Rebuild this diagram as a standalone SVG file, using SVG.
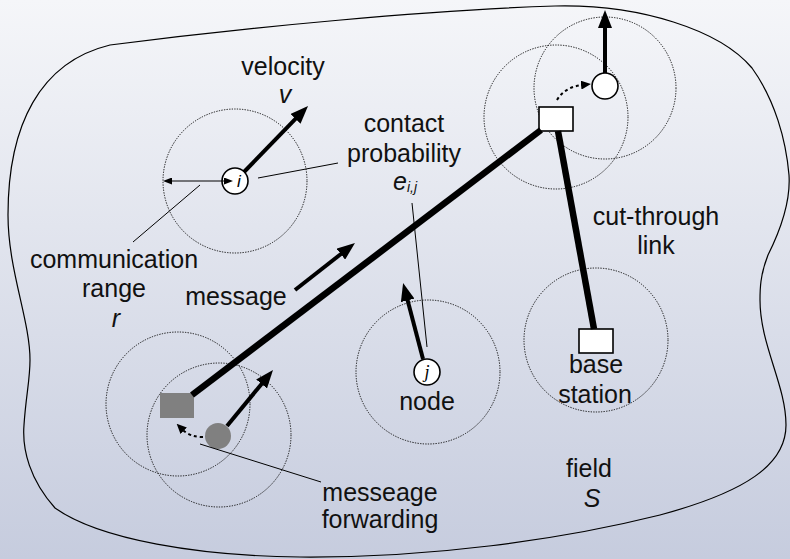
<svg xmlns="http://www.w3.org/2000/svg" width="790" height="559" viewBox="0 0 790 559">
<defs>
<linearGradient id="bg" x1="0" y1="0" x2="0" y2="1">
<stop offset="0" stop-color="#f5f6f9"/>
<stop offset="1" stop-color="#c6ccde"/>
</linearGradient>
<marker id="ah" markerUnits="userSpaceOnUse" markerWidth="18" markerHeight="14" viewBox="0 0 18 14" refX="1" refY="7" orient="auto">
<path d="M0,0 L18,7 L0,14 z" fill="#000"/>
</marker>
<marker id="ahs" markerUnits="userSpaceOnUse" markerWidth="10" markerHeight="9" viewBox="0 0 10 9" refX="1" refY="4.5" orient="auto">
<path d="M0,0 L10,4.5 L0,9 z" fill="#000"/>
</marker>
<marker id="aht" markerUnits="userSpaceOnUse" markerWidth="9" markerHeight="7" viewBox="0 0 9 7" refX="1" refY="3.5" orient="auto-start-reverse">
<path d="M0,0 L9,3.5 L0,7 z" fill="#000"/>
</marker>
</defs>
<style>
.txt{font-family:"Liberation Sans",Arial,sans-serif;font-size:25px;fill:#111;text-anchor:middle}
.it{font-style:italic}
.range{fill:none;stroke:#111;stroke-width:1;stroke-dasharray:1.3,1.3}
.node{fill:#fff;stroke:#000;stroke-width:1.6}
.gray{fill:#808080}
.link{stroke:#000;stroke-width:6.5;fill:none}
.arr{stroke:#000;stroke-width:4;fill:none;marker-end:url(#ah)}
.dash{stroke:#000;stroke-width:2;fill:none;stroke-dasharray:3,3;marker-end:url(#ahs)}
.lead{stroke:#000;stroke-width:1;fill:none}
</style>
<rect x="0" y="0" width="790" height="559" fill="url(#bg)"/>
<path id="field" d="M110,45 C250,27 430,10 555,6 C640,4 720,30 752,68 C775,100 786,140 789,175 C791,205 778,235 768,255 C760,275 760,290 760,300 C760,345 786,385 786,425 C786,465 745,492 660,515 C560,540 430,558 300,557 C200,556 100,540 55,508 C30,480 22,450 24,425 C26,395 30,380 30,360 C30,320 8,270 8,215 C8,125 40,62 110,45 Z" fill="none" stroke="#000" stroke-width="1.2"/>
<g id="ranges">
<circle class="range" cx="235" cy="181" r="72"/>
<circle class="range" cx="556" cy="117" r="72"/>
<circle class="range" cx="605" cy="88" r="71"/>
<circle class="range" cx="428" cy="372" r="72"/>
<circle class="range" cx="596" cy="340" r="72"/>
<circle class="range" cx="178" cy="404" r="72"/>
<circle class="range" cx="219" cy="435" r="72"/>
</g>
<g id="node-i">
<circle class="node" cx="235" cy="181" r="13"/>
<text x="239" y="187" style="font-family:'Liberation Sans',Arial,sans-serif;font-size:17px;font-style:italic;text-anchor:middle">i</text>
</g>
<g id="node-j">
<circle class="node" cx="427" cy="372" r="13"/>
<text x="427" y="378" style="font-family:'Liberation Serif','Times New Roman',serif;font-size:18px;font-style:italic;text-anchor:middle">j</text>
</g>
<g id="node-upper">
<circle class="node" cx="605" cy="86" r="13"/>
</g>
<g id="relay-upper">
<rect class="node" x="539" y="107" width="34" height="24"/>
</g>
<g id="base-station">
<rect class="node" x="579" y="329" width="34" height="24"/>
</g>
<g id="relay-source">
<rect class="gray" x="160" y="393" width="34" height="25"/>
</g>
<g id="node-source">
<circle class="gray" cx="218" cy="436" r="13"/>
</g>
<g id="connectors">
<line class="link" x1="192" y1="395" x2="541" y2="130"/>
<line class="link" x1="558" y1="131" x2="594" y2="329"/>
<line class="arr" x1="244" y1="172" x2="296.2" y2="118.2"/>
<line class="arr" x1="295" y1="290" x2="341.6" y2="253.5"/>
<line class="arr" x1="423" y1="359" x2="407.4" y2="299.4"/>
<line class="arr" x1="227" y1="426" x2="262.2" y2="383.2"/>
<line class="arr" x1="605" y1="73" x2="605" y2="27"/>
<path class="dash" d="M557,100 Q565,87 582,85"/>
<path class="dash" d="M203,437 Q190,437 183,430"/>
<line x1="171" y1="181" x2="225" y2="181" stroke="#000" stroke-width="1" marker-start="url(#aht)" marker-end="url(#aht)"/>
<line class="lead" x1="133" y1="242" x2="200" y2="185"/>
<line class="lead" x1="258" y1="178" x2="338" y2="163"/>
<line class="lead" x1="412" y1="203" x2="427" y2="347"/>
<line class="lead" x1="200" y1="444" x2="321" y2="482"/>
</g>
<g id="labels">
<text class="txt" x="283" y="75">velocity</text>
<text class="txt it" x="285" y="103">v</text>
<text class="txt" x="404" y="132">contact</text>
<text class="txt" x="404" y="162">probability</text>
<text class="txt it" x="393" y="190" style="text-anchor:start">e<tspan font-size="14" dy="2">i,j</tspan></text>
<text class="txt" x="114" y="268">communication</text>
<text class="txt" x="114" y="297">range</text>
<text class="txt it" x="116" y="327">r</text>
<text class="txt" x="236" y="305">message</text>
<text class="txt" x="427" y="410">node</text>
<text class="txt" x="596" y="373">base</text>
<text class="txt" x="595" y="403">station</text>
<text class="txt" x="656" y="225">cut-through</text>
<text class="txt" x="656" y="254">link</text>
<text class="txt" x="380" y="501">messeage</text>
<text class="txt" x="380" y="528">forwarding</text>
<text class="txt" x="589" y="477">field</text>
<text class="txt it" x="592" y="507">S</text>
</g>
</svg>
